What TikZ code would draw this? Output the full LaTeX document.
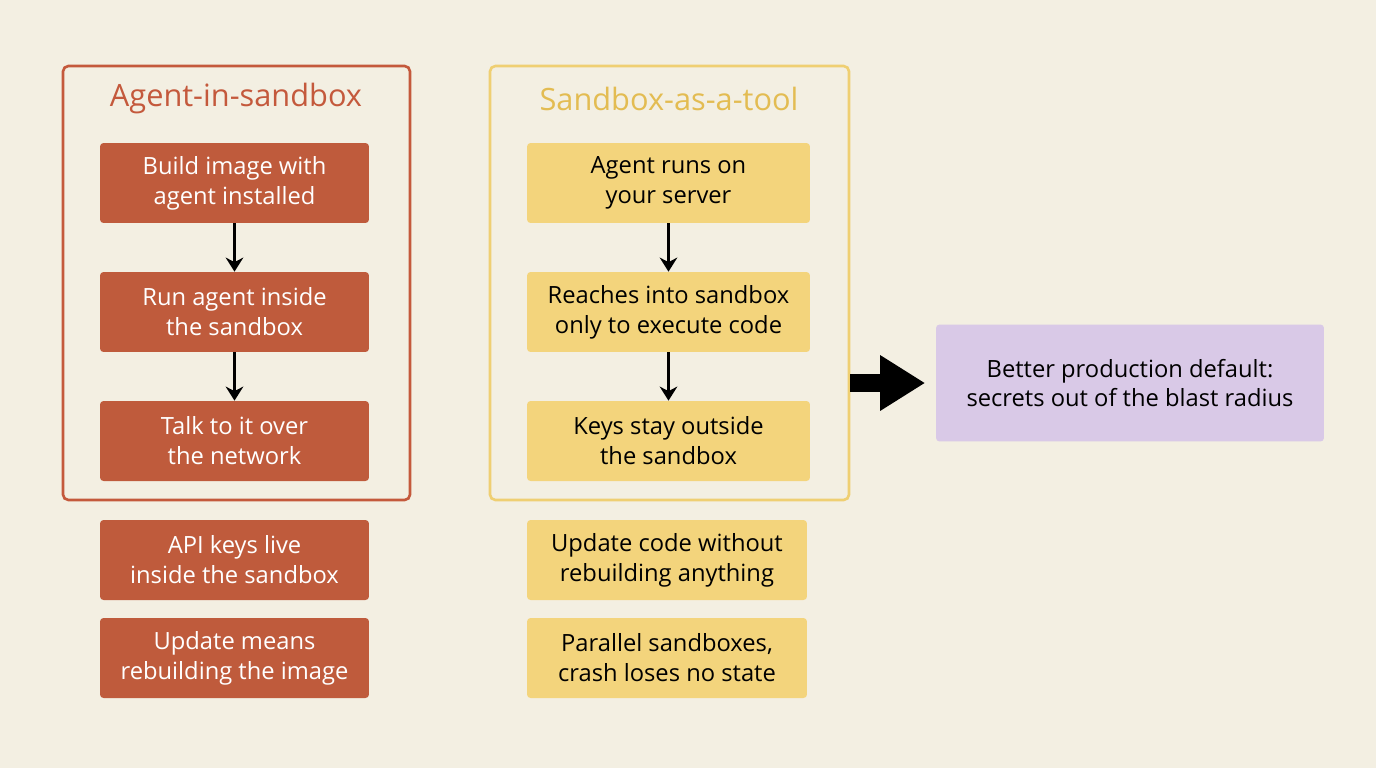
\documentclass[tikz,border=0pt]{standalone}
\usepackage{fontspec}
\setmainfont{Open Sans}
\usetikzlibrary{arrows.meta,positioning}
\definecolor{bgcol}{HTML}{F3EFE2}
\definecolor{rust}{HTML}{BF5B3C}
\definecolor{rustline}{HTML}{C4593C}
\definecolor{sand}{HTML}{F3D47C}
\definecolor{sandline}{HTML}{EFCF72}
\definecolor{sandtext}{HTML}{E3BC52}
\definecolor{lilac}{HTML}{D9C9E7}
\tikzset{
  stepbox/.style={rectangle, rounded corners=2pt, align=center, minimum height=1.6cm,
    font=\fontsize{13.5}{17}\selectfont},
  agentstep/.style={stepbox, fill=rust, text=white, minimum width=5.38cm},
  toolstep/.style={stepbox, fill=sand, text=black, minimum width=5.66cm},
  frame/.style={rectangle, rounded corners=3pt, line width=1.5pt, minimum height=8.68cm},
  title/.style={font=\fontsize{17.5}{20}\selectfont},
  flow/.style={-{Stealth[length=8pt,width=10pt]}, line width=1.8pt, black}
}
\begin{document}
\begin{tikzpicture}[x=0.02cm,y=-0.02cm]
\useasboundingbox[fill=bgcol] (0,0) rectangle (1376,768);

% frames
\node[frame, draw=rustline, minimum width=6.94cm] (leftframe) at (236.5,283) {};
\node[frame, draw=sandline, minimum width=7.18cm] (midframe) at (669.5,283) {};
\node[title, text=rustline] (lefttitle) at (236,99) {Agent-in-sandbox};
\node[title, text=sandtext] (midtitle) at (669,99) {Sandbox-as-a-tool};

% agent-in-sandbox steps
\node[agentstep] (a1) at (234.5,183) {Build image with\\agent installed};
\node[agentstep] (a2) at (234.5,312) {Run agent inside\\the sandbox};
\node[agentstep] (a3) at (234.5,441) {Talk to it over\\the network};
\node[agentstep] (a4) at (234.5,560) {API keys live\\inside the sandbox};
\node[agentstep] (a5) at (234.5,658) {Update means\\rebuilding the image};

% sandbox-as-a-tool steps
\node[toolstep] (t1) at (668.5,183) {Agent runs on\\your server};
\node[toolstep] (t2) at (668.5,312) {Reaches into sandbox\\only to execute code};
\node[toolstep] (t3) at (668.5,441) {Keys stay outside\\the sandbox};
\node[toolstep, minimum width=5.6cm] (t4) at (667,560) {Update code without\\rebuilding anything};
\node[toolstep, minimum width=5.6cm] (t5) at (667,658) {Parallel sandboxes,\\crash loses no state};

% verdict
\node[stepbox, fill=lilac, minimum width=7.76cm, minimum height=2.34cm] (verdict) at (1130,383)
  {Better production default:\\secrets out of the blast radius};

% arrows
\foreach \source/\dest in {a1/a2, a2/a3, t1/t2, t2/t3}
  \draw[flow] (\source) -- (\dest);
\draw[-{Triangle[length=0.9cm,width=1.05cm]}, line width=0.36cm] (midframe.east |- verdict.west) -- ([xshift=-6pt]verdict.west);
\end{tikzpicture}
\end{document}
